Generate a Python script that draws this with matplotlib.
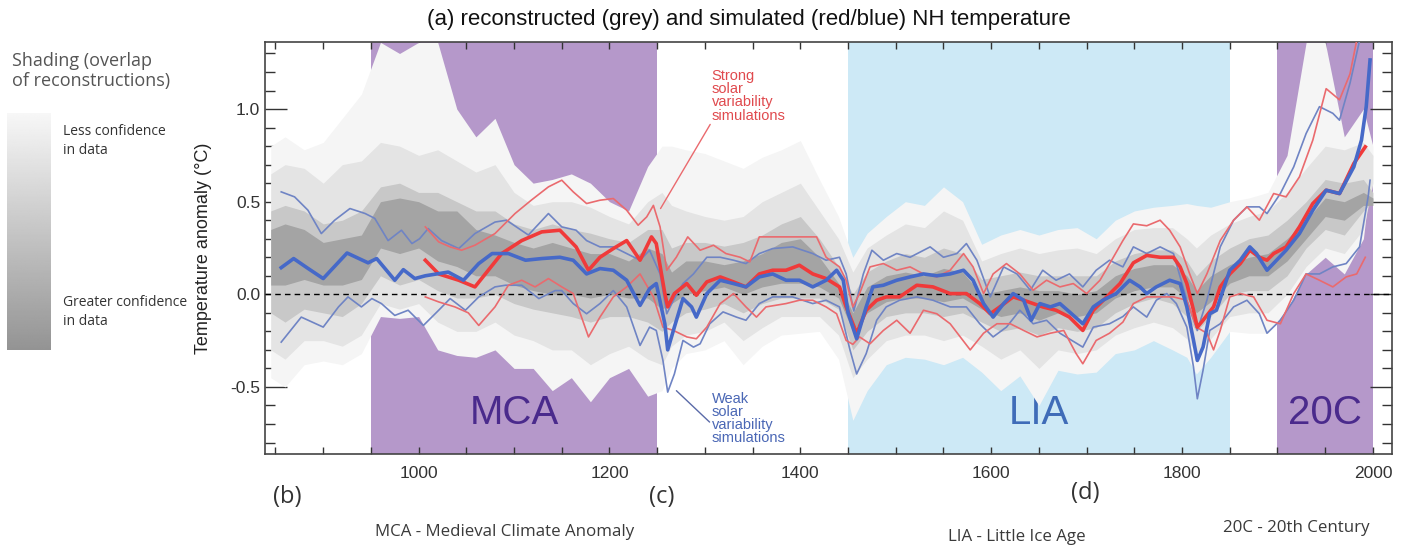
import matplotlib.pyplot as plt
import numpy as np

# ---------------- data ----------------
# shading of reconstructions: nested envelopes (outer = lightest)
shade_years = [845, 860, 880, 900, 920, 940, 960, 980, 1000, 1020, 1040, 1060, 1080, 1100,
               1120, 1140, 1160, 1180, 1200, 1220, 1240, 1255, 1265, 1280, 1300, 1320, 1340,
               1360, 1380, 1400, 1420, 1440, 1455, 1470, 1490, 1510, 1530, 1550, 1570, 1590,
               1610, 1630, 1650, 1670, 1690, 1710, 1730, 1750, 1770, 1790, 1805, 1815, 1830,
               1850, 1870, 1890, 1910, 1930, 1950, 1970, 1990, 2000]
outer_hi = [0.80, 0.85, 0.78, 0.82, 0.95, 1.08, 1.36, 1.30, 1.36, 1.36, 1.00, 0.85, 0.95, 0.70,
            0.60, 0.62, 0.65, 0.60, 0.50, 0.45, 0.69, 0.80, 0.80, 0.78, 0.76, 0.72, 0.68,
            0.74, 0.78, 0.83, 0.62, 0.42, 0.20, 0.33, 0.42, 0.50, 0.48, 0.58, 0.50, 0.27,
            0.32, 0.35, 0.32, 0.35, 0.36, 0.30, 0.40, 0.45, 0.47, 0.48, 0.49, 0.48, 0.47,
            0.50, 0.52, 0.55, 0.75, 1.36, 1.36, 0.85, 1.00, 0.80]
outer_lo = [-0.45, -0.50, -0.38, -0.36, -0.38, -0.32, -0.12, -0.13, -0.12, -0.30, -0.33, -0.34,
            -0.30, -0.40, -0.40, -0.52, -0.45, -0.58, -0.45, -0.40, -0.55, -0.52, -0.40, -0.32,
            -0.30, -0.25, -0.38, -0.28, -0.22, -0.21, -0.20, -0.35, -0.68, -0.52, -0.38, -0.34,
            -0.35, -0.38, -0.34, -0.42, -0.52, -0.44, -0.60, -0.41, -0.43, -0.42, -0.32, -0.30,
            -0.25, -0.30, -0.34, -0.43, -0.34, -0.20, -0.21, -0.21, -0.08, 0.11, 0.20, 0.11,
            0.30, 0.74]
mid_hi = [0.65, 0.70, 0.68, 0.60, 0.70, 0.72, 0.82, 0.80, 0.75, 0.78, 0.72, 0.66, 0.70, 0.55,
          0.48, 0.50, 0.50, 0.47, 0.42, 0.38, 0.50, 0.55, 0.48, 0.45, 0.42, 0.40, 0.42, 0.50,
          0.55, 0.60, 0.45, 0.30, 0.12, 0.25, 0.32, 0.38, 0.36, 0.45, 0.40, 0.18, 0.22, 0.25,
          0.22, 0.24, 0.25, 0.22, 0.30, 0.35, 0.36, 0.36, 0.30, 0.25, 0.32, 0.38, 0.42, 0.45,
          0.55, 0.68, 0.80, 0.78, 0.82, 0.75]
mid_lo = [-0.30, -0.35, -0.25, -0.25, -0.28, -0.22, -0.05, -0.08, -0.05, -0.15, -0.20, -0.20,
          -0.15, -0.22, -0.25, -0.30, -0.30, -0.38, -0.32, -0.28, -0.35, -0.38, -0.28, -0.22,
          -0.20, -0.15, -0.25, -0.18, -0.12, -0.12, -0.12, -0.22, -0.45, -0.35, -0.25, -0.22,
          -0.22, -0.25, -0.22, -0.28, -0.35, -0.30, -0.40, -0.30, -0.32, -0.30, -0.22, -0.18,
          -0.15, -0.18, -0.24, -0.32, -0.24, -0.12, -0.10, -0.10, 0.00, 0.15, 0.25, 0.22,
          0.35, 0.60]
inner_hi = [0.45, 0.48, 0.45, 0.38, 0.40, 0.45, 0.58, 0.60, 0.55, 0.55, 0.50, 0.45, 0.45, 0.38,
            0.35, 0.38, 0.35, 0.33, 0.30, 0.28, 0.35, 0.35, 0.25, 0.28, 0.28, 0.26, 0.28,
            0.32, 0.38, 0.42, 0.30, 0.15, 0.00, 0.12, 0.18, 0.22, 0.20, 0.25, 0.22, 0.08,
            0.10, 0.12, 0.10, 0.10, 0.10, 0.10, 0.18, 0.22, 0.24, 0.24, 0.18, 0.10, 0.18,
            0.25, 0.30, 0.32, 0.40, 0.50, 0.62, 0.60, 0.62, 0.55]
inner_lo = [-0.10, -0.15, -0.08, -0.10, -0.12, -0.05, 0.10, 0.05, 0.08, 0.02, -0.02, -0.02,
            0.00, -0.05, -0.08, -0.10, -0.12, -0.15, -0.12, -0.12, -0.15, -0.20, -0.15, -0.10,
            -0.08, -0.05, -0.10, -0.05, -0.02, -0.02, -0.02, -0.08, -0.30, -0.20, -0.12, -0.10,
            -0.10, -0.12, -0.10, -0.15, -0.20, -0.18, -0.22, -0.18, -0.20, -0.18, -0.10, -0.05,
            -0.02, -0.05, -0.12, -0.20, -0.12, 0.00, 0.02, 0.02, 0.10, 0.25, 0.35, 0.32,
            0.45, 0.50]
core_hi = [0.35, 0.38, 0.35, 0.28, 0.30, 0.32, 0.50, 0.52, 0.50, 0.45, 0.45, 0.35, 0.32, 0.28,
           0.25, 0.28, 0.25, 0.22, 0.22, 0.18, 0.25, 0.22, 0.12, 0.18, 0.18, 0.16, 0.18,
           0.22, 0.28, 0.30, 0.20, 0.06, -0.10, 0.04, 0.10, 0.12, 0.10, 0.14, 0.12, 0.00,
           0.02, 0.04, 0.02, 0.02, 0.00, 0.02, 0.10, 0.14, 0.16, 0.16, 0.10, 0.02, 0.10,
           0.16, 0.20, 0.22, 0.30, 0.40, 0.52, 0.50, 0.55, 0.52]
core_lo = [0.05, 0.05, 0.08, 0.05, 0.05, 0.08, 0.25, 0.22, 0.25, 0.18, 0.15, 0.10, 0.10, 0.05,
           0.02, 0.00, 0.00, -0.02, 0.00, -0.02, -0.02, -0.08, -0.05, 0.00, 0.02, 0.04, 0.00,
           0.04, 0.06, 0.06, 0.04, -0.02, -0.20, -0.10, -0.04, -0.02, -0.02, -0.04, -0.02,
           -0.08, -0.12, -0.10, -0.14, -0.10, -0.12, -0.10, -0.02, 0.02, 0.04, 0.04, -0.02,
           -0.10, -0.04, 0.06, 0.10, 0.10, 0.18, 0.30, 0.42, 0.40, 0.48, 0.48]

# weak solar variability simulations (blue): mean, upper, lower
weak_mean_yr = [856, 869, 884, 900, 925, 947, 956, 975, 984, 996, 1007, 1031, 1047, 1063, 1077,
                1094, 1112, 1129, 1148, 1162, 1176, 1190, 1204, 1218, 1232, 1242, 1249, 1258,
                1261, 1268, 1277, 1286, 1291, 1302, 1316, 1330, 1343, 1357, 1371, 1385, 1399,
                1413, 1427, 1438, 1445, 1450, 1459, 1469, 1476, 1487, 1501, 1515, 1529, 1543,
                1557, 1571, 1581, 1592, 1602, 1613, 1623, 1634, 1642, 1651, 1662, 1672, 1682,
                1696, 1707, 1717, 1731, 1745, 1756, 1763, 1773, 1787, 1798, 1805, 1812, 1816,
                1822, 1829, 1836, 1843, 1850, 1861, 1871, 1878, 1889, 1899, 1909, 1923, 1937,
                1951, 1965, 1980, 1988, 1993, 1997]
weak_mean = [0.144, 0.193, 0.14, 0.085, 0.223, 0.17, 0.193, 0.076, 0.133, 0.085, 0.10, 0.12,
             0.076, 0.166, 0.22, 0.22, 0.184, 0.193, 0.20, 0.184, 0.11, 0.139, 0.13, 0.076,
             -0.06, 0.03, 0.058, -0.159, -0.30, -0.177, -0.023, -0.068, -0.123, 0.004, 0.076,
             0.058, 0.04, 0.094, 0.11, 0.076, 0.076, 0.04, 0.076, 0.13, 0.076, -0.10, -0.24,
             -0.068, 0.04, 0.049, 0.076, 0.094, 0.11, 0.10, 0.11, 0.13, 0.076, -0.05, -0.123,
             -0.05, 0.004, -0.032, -0.14, -0.05, -0.068, -0.05, -0.095, -0.159, -0.068,
             -0.032, 0.004, 0.076, 0.04, 0.004, 0.04, 0.076, 0.058, -0.068, -0.249, -0.357,
             -0.285, -0.105, -0.086, 0.022, 0.13, 0.184, 0.256, 0.22, 0.13, 0.184, 0.238,
             0.328, 0.454, 0.562, 0.544, 0.688, 0.832, 1.013, 1.265]
weak_hi_yr = [856, 870, 884, 898, 912, 928, 944, 954, 968, 982, 993, 1001, 1010, 1024, 1042,
              1059, 1080, 1092, 1115, 1136, 1150, 1165, 1176, 1190, 1204, 1218, 1232, 1242,
              1253, 1260, 1267, 1277, 1288, 1302, 1316, 1330, 1343, 1357, 1371, 1392, 1413,
              1427, 1441, 1448, 1456, 1466, 1475, 1487, 1501, 1515, 1536, 1550, 1564, 1574,
              1585, 1599, 1613, 1627, 1641, 1654, 1668, 1682, 1696, 1710, 1724, 1738, 1749,
              1763, 1777, 1791, 1805, 1816, 1826, 1840, 1854, 1868, 1881, 1889, 1903, 1917,
              1930, 1944, 1958, 1965, 1976, 1986]
weak_hi = [0.553, 0.526, 0.454, 0.328, 0.40, 0.463, 0.436, 0.41, 0.29, 0.346, 0.274, 0.30,
           0.355, 0.29, 0.247, 0.328, 0.39, 0.40, 0.32, 0.436, 0.364, 0.346, 0.29, 0.256,
           0.256, 0.22, 0.184, 0.238, 0.11, -0.105, -0.032, 0.058, 0.11, 0.20, 0.20, 0.184,
           0.166, 0.22, 0.247, 0.256, 0.22, 0.184, 0.20, 0.11, -0.09, 0.11, 0.238, 0.184,
           0.22, 0.20, 0.256, 0.20, 0.22, 0.274, 0.184, -0.014, 0.148, 0.11, 0.022, 0.13,
           0.076, 0.11, 0.04, 0.13, 0.184, 0.148, 0.256, 0.22, 0.256, 0.22, -0.032, -0.195,
           -0.032, 0.256, 0.40, 0.472, 0.472, 0.436, 0.544, 0.688, 0.868, 1.013, 0.977, 0.94,
           1.14, 1.37]
weak_lo_yr = [856, 877, 900, 916, 926, 940, 951, 961, 975, 989, 1005, 1021, 1033, 1049, 1063,
              1080, 1091, 1108, 1126, 1143, 1150, 1162, 1176, 1190, 1204, 1218, 1232, 1242,
              1249, 1256, 1261, 1268, 1277, 1288, 1295, 1305, 1319, 1333, 1343, 1357, 1371,
              1392, 1413, 1427, 1441, 1452, 1459, 1469, 1480, 1490, 1504, 1522, 1539, 1557,
              1574, 1588, 1602, 1616, 1630, 1644, 1658, 1672, 1696, 1707, 1724, 1738, 1749,
              1763, 1773, 1784, 1794, 1805, 1812, 1816, 1822, 1829, 1840, 1854, 1868, 1881,
              1889, 1903, 1917, 1930, 1944, 1958, 1972, 1986, 1995, 1997]
weak_lo = [-0.258, -0.123, -0.177, -0.068, -0.014, -0.068, -0.023, -0.05, -0.114, -0.086,
           -0.168, -0.086, -0.023, -0.086, -0.014, 0.04, 0.049, 0.049, -0.023, 0.02, 0.02,
           -0.05, -0.105, -0.05, 0.02, -0.068, -0.276, -0.177, -0.195, -0.357, -0.528, -0.43,
           -0.249, -0.285, -0.267, -0.159, -0.095, -0.123, -0.14, -0.05, -0.014, -0.014, -0.05,
           -0.032, -0.068, -0.30, -0.43, -0.32, -0.14, -0.068, -0.032, -0.014, -0.032, -0.068,
           -0.068, -0.159, -0.23, -0.177, -0.086, -0.159, -0.14, -0.21, -0.285, -0.177,
           -0.159, -0.12, -0.068, -0.123, -0.032, 0.004, -0.05, -0.177, -0.393, -0.564, -0.41,
           -0.195, -0.159, -0.068, -0.032, -0.105, -0.21, -0.14, -0.032, 0.11, 0.11, 0.148,
           0.166, 0.256, 0.526, 0.616]

# strong solar variability simulations (red): mean, upper, lower
strong_mean_yr = [1007, 1021, 1042, 1059, 1073, 1087, 1108, 1129, 1148, 1165, 1178, 1190, 1204,
                  1218, 1232, 1244, 1249, 1258, 1261, 1268, 1281, 1291, 1302, 1316, 1330, 1343,
                  1357, 1371, 1385, 1399, 1413, 1427, 1441, 1448, 1459, 1469, 1480, 1490, 1504,
                  1522, 1539, 1557, 1574, 1588, 1599, 1609, 1623, 1634, 1644, 1654, 1668, 1682,
                  1696, 1707, 1721, 1735, 1749, 1763, 1777, 1791, 1798, 1805, 1812, 1816, 1822,
                  1833, 1840, 1850, 1861, 1871, 1881, 1889, 1896, 1909, 1923, 1937, 1951, 1965,
                  1980, 1992]
strong_mean = [0.184, 0.11, 0.076, 0.04, 0.13, 0.22, 0.29, 0.337, 0.346, 0.256, 0.13, 0.20,
               0.247, 0.29, 0.184, 0.31, 0.274, 0.004, -0.068, 0.004, 0.058, -0.005, 0.067,
               0.094, 0.067, 0.04, 0.11, 0.13, 0.13, 0.157, 0.11, 0.085, 0.04, -0.068, -0.21,
               -0.086, -0.032, -0.014, -0.014, 0.049, 0.04, 0.004, 0.004, -0.05, -0.105,
               -0.068, -0.014, -0.032, -0.05, -0.068, -0.086, -0.123, -0.195, -0.086, -0.014,
               0.058, 0.17, 0.21, 0.20, 0.20, 0.148, 0.058, -0.086, -0.177, -0.14, -0.068, 0.04,
               0.11, 0.166, 0.238, 0.20, 0.184, 0.22, 0.256, 0.364, 0.49, 0.562, 0.544, 0.706,
               0.796]
strong_hi_yr = [1007, 1021, 1033, 1045, 1059, 1080, 1101, 1118, 1136, 1150, 1162, 1176, 1190,
                1204, 1218, 1230, 1239, 1246, 1253, 1260, 1270, 1282, 1295, 1309, 1322, 1337,
                1347, 1357, 1371, 1392, 1417, 1427, 1441, 1448, 1455, 1462, 1473, 1487, 1501,
                1515, 1529, 1543, 1557, 1571, 1581, 1592, 1602, 1616, 1630, 1644, 1658, 1672,
                1686, 1700, 1714, 1728, 1738, 1749, 1763, 1777, 1787, 1798, 1808, 1816, 1826,
                1840, 1854, 1868, 1881, 1896, 1909, 1923, 1937, 1951, 1965, 1976, 1983]
strong_hi = [0.364, 0.283, 0.256, 0.238, 0.265, 0.328, 0.436, 0.508, 0.58, 0.616, 0.553, 0.49,
             0.508, 0.517, 0.454, 0.373, 0.418, 0.48, 0.364, 0.13, 0.20, 0.31, 0.238, 0.265,
             0.22, 0.20, 0.175, 0.31, 0.31, 0.31, 0.31, 0.20, 0.148, 0.076, -0.068, 0.004,
             0.148, 0.166, 0.13, 0.148, 0.11, 0.094, 0.13, 0.22, 0.148, 0.004, 0.11, 0.166,
             0.11, 0.022, 0.076, 0.04, 0.058, 0.004, 0.076, 0.20, 0.29, 0.38, 0.37, 0.40,
             0.346, 0.256, 0.11, 0.004, 0.11, 0.29, 0.40, 0.472, 0.40, 0.544, 0.526, 0.634,
             0.832, 1.11, 1.05, 1.19, 1.37]
strong_lo_yr = [1007, 1021, 1038, 1052, 1063, 1080, 1094, 1108, 1122, 1136, 1150, 1162, 1178,
                1190, 1204, 1218, 1232, 1246, 1256, 1267, 1281, 1291, 1302, 1316, 1330, 1343,
                1354, 1364, 1385, 1399, 1413, 1427, 1438, 1448, 1455, 1462, 1473, 1487, 1501,
                1515, 1529, 1543, 1557, 1578, 1592, 1606, 1620, 1634, 1648, 1662, 1676, 1689,
                1696, 1710, 1724, 1738, 1749, 1763, 1777, 1791, 1805, 1815, 1826, 1833, 1840,
                1850, 1861, 1875, 1889, 1903, 1917, 1930, 1944, 1958, 1972, 1983, 1992]
strong_lo = [-0.014, -0.041, -0.068, -0.10, -0.168, -0.068, 0.049, 0.076, 0.04, 0.085, 0.04,
             0.004, -0.23, -0.123, -0.014, 0.04, 0.11, -0.014, -0.177, -0.195, -0.23, -0.24,
             -0.177, -0.05, 0.004, -0.068, -0.123, -0.068, -0.05, -0.032, -0.032, -0.068,
             -0.105, -0.249, -0.27, -0.23, -0.267, -0.195, -0.14, -0.21, -0.086, -0.105,
             -0.159, -0.30, -0.21, -0.159, -0.159, -0.195, -0.23, -0.21, -0.195, -0.32, -0.375,
             -0.249, -0.21, -0.15, -0.05, -0.014, -0.014, -0.014, -0.032, -0.177, -0.21, -0.30,
             -0.195, -0.014, 0.004, -0.014, -0.14, -0.159, 0.004, 0.11, 0.076, 0.04, 0.094,
             0.11, 0.20]

periods = [("MCA", 950, 1250), ("LIA", 1450, 1850), ("20C", 1900, 2000)]
period_colors = {"MCA": "#b598ca", "LIA": "#cde9f6", "20C": "#b598ca"}
period_text_colors = {"MCA": "#4a2a8c", "LIA": "#3f6cb8", "20C": "#4a2a8c"}
period_text_x = {"MCA": 1100, "LIA": 1650, "20C": 1950}

# ---------------- figure ----------------
W, H = 1408, 546
fig = plt.figure(figsize=(W / 100, H / 100), dpi=100)
ax = fig.add_axes([265 / W, 1 - 454 / H, (1392 - 265) / W, (454 - 42) / H])

sans = ['Liberation Sans', 'DejaVu Sans']
human = ['Open Sans', 'DejaVu Sans']

for name, a, b in periods:
    ax.axvspan(a, b, color=period_colors[name], lw=0, zorder=0)
    ax.text(period_text_x[name], -0.64, name, ha='center', va='center', fontsize=29,
            color=period_text_colors[name], family=sans, zorder=1)

# reconstruction shading (lighter outside, darker inside)
bands = [(outer_lo, outer_hi, '#f5f5f5'), (mid_lo, mid_hi, '#e4e4e4'),
         (inner_lo, inner_hi, '#c8c8c8'), (core_lo, core_hi, '#a4a4a4')]
for lo, hi, c in bands:
    ax.fill_between(shade_years, lo, hi, color=c, lw=0, zorder=2)

ax.axhline(0, color='black', lw=1.0, ls=(0, (4, 3)), zorder=3)

thin_blue, thick_blue = '#6f84c4', '#4669c8'
thin_red, thick_red = '#ea6a6e', '#f03a3a'
ax.plot(weak_hi_yr, weak_hi, color=thin_blue, lw=1.2, zorder=4)
ax.plot(weak_lo_yr, weak_lo, color=thin_blue, lw=1.2, zorder=4)
ax.plot(strong_hi_yr, strong_hi, color=thin_red, lw=1.2, zorder=4)
ax.plot(strong_lo_yr, strong_lo, color=thin_red, lw=1.2, zorder=4)
ax.plot(strong_mean_yr, strong_mean, color=thick_red, lw=2.6, zorder=5)
ax.plot(weak_mean_yr, weak_mean, color=thick_blue, lw=2.6, zorder=6)

# annotations
ax.annotate('', xy=(1252, 0.45), xytext=(1307, 0.93),
            arrowprops=dict(arrowstyle='-', color=thin_red, lw=1.0), zorder=7)
ax.text(1307, 1.215, 'Strong\nsolar\nvariability\nsimulations', color='#e04a4e',
        fontsize=10.5, va='top', ha='left', linespacing=0.92, family=sans, zorder=7)
ax.annotate('', xy=(1268, -0.51), xytext=(1307, -0.70),
            arrowprops=dict(arrowstyle='-', color='#5a6aa8', lw=1.0), zorder=7)
ax.text(1307, -0.525, 'Weak\nsolar\nvariability\nsimulations', color='#4a67b5',
        fontsize=10.5, va='top', ha='left', linespacing=0.92, family=sans, zorder=7)

ax.set_xlim(839, 2020)
ax.set_ylim(-0.862, 1.362)
ax.set_xticks([1000, 1200, 1400, 1600, 1800, 2000])
ax.set_xticks(np.arange(850, 2001, 50), minor=True)
ax.set_yticks([-0.5, 0.0, 0.5, 1.0])
ax.set_yticks(np.arange(-0.8, 1.31, 0.1), minor=True)
ax.set_yticklabels(['-0.5', '0.0', '0.5', '1.0'])
ax.tick_params(axis='both', which='both', direction='in', top=True, right=True,
               labelsize=12.5, color='#333333', width=1.0)
ax.tick_params(axis='y', which='major', length=16)
ax.tick_params(axis='y', which='minor', length=7)
ax.tick_params(axis='x', which='both', length=5, pad=9)
for lab in ax.get_xticklabels() + ax.get_yticklabels():
    lab.set_family(sans)
    lab.set_color('#333333')
for s in ax.spines.values():
    s.set_color('#444444')
    s.set_linewidth(1.2)

ax.set_ylabel('Temperature anomaly (°C)', fontsize=13, family=sans, color='#222222', labelpad=13)
fig.text(749 / W, 1 - 20 / H, '(a) reconstructed (grey) and simulated (red/blue) NH temperature',
         ha='center', va='center', fontsize=16, family=sans, color='#111111')

# panel letters and footnotes
for lbl, px, py in [('(b)', 287, 497), ('(c)', 662, 497), ('(d)', 1085, 493)]:
    fig.text(px / W, 1 - py / H, lbl, ha='center', va='center', fontsize=17, family=human,
             color='#333333')
for txt, px, py in [('MCA - Medieval Climate Anomaly', 375, 532),
                    ('LIA - Little Ice Age', 948, 537),
                    ('20C - 20th Century', 1223, 528)]:
    fig.text(px / W, 1 - py / H, txt, ha='left', va='center', fontsize=12.2, family=human,
             weight='medium', color='#3a3a3a')

# shading legend on the left
fig.text(12 / W, 1 - 71 / H, 'Shading (overlap\nof reconstructions)', ha='left', va='center',
         fontsize=13, family=human, color='#555555', linespacing=1.2)
lax = fig.add_axes([7 / W, 1 - 350 / H, 44 / W, 237 / H])
lax.imshow(np.linspace(0.97, 0.58, 200)[:, None], cmap='gray', vmin=0, vmax=1,
           aspect='auto', interpolation='bilinear')
lax.axis('off')
fig.text(63 / W, 1 - 141 / H, 'Less confidence\nin data', ha='left', va='center', fontsize=10,
         family=human, color='#333333', linespacing=1.4)
fig.text(63 / W, 1 - 312 / H, 'Greater confidence\nin data', ha='left', va='center',
         fontsize=10, family=human, color='#333333', linespacing=1.4)

fig.savefig('out.png', dpi=100)
